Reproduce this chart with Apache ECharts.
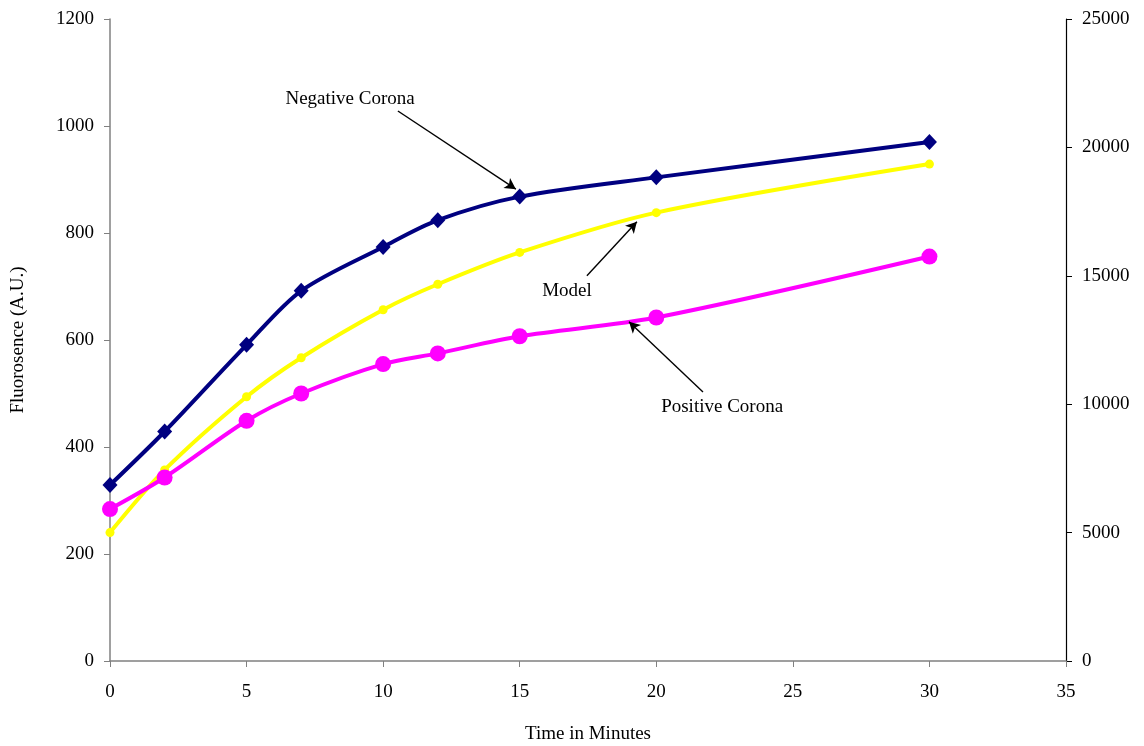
<!DOCTYPE html>
<html>
<head>
<meta charset="utf-8">
<script src="https://cdn.jsdelivr.net/npm/echarts@6/dist/echarts.min.js"></script>
<style>html,body{margin:0;padding:0;background:#fff}#c{width:1144px;height:746px}</style>
</head>
<body>
<div id="c"></div>
<script>
var times = [0, 2, 5, 7, 10, 12, 15, 20, 30];
var negativeCorona = [329, 429, 591, 692, 774, 824, 868, 904, 970];
var model = [5000, 7440, 10290, 11810, 13680, 14670, 15910, 17460, 19350];
var positiveCorona = [284, 343, 449, 500, 555, 575, 607, 642, 756];

// annotations (left-axis data coordinates)
var labelTexts = ['Negative Corona', 'Model', 'Positive Corona'];
var labelPos = [[8.79, 1050], [16.73, 692], [22.41, 475]];
var arrowFrom = [[10.54, 1028], [17.46, 720], [21.71, 503]];
var arrowTo = [[14.86, 882], [19.29, 821], [19.0, 634]];

function pairs(ys) { return times.map(function (t, i) { return [t, ys[i]]; }); }
function plain(v) { return String(v); }

var font = 'Liberation Serif';
var fs = 19;
var chart = echarts.init(document.getElementById('c'));
chart.setOption({
  animation: false,
  backgroundColor: '#fff',
  textStyle: { fontFamily: font },
  grid: { left: 110, right: 78, top: 19, bottom: 85, containLabel: false, outerBoundsMode: 'none' },
  xAxis: {
    type: 'value', min: 0, max: 35, interval: 5,
    name: 'Time in Minutes', nameLocation: 'middle', nameGap: 64,
    nameTextStyle: { fontFamily: font, fontSize: fs, color: '#000' },
    axisLine: { onZero: false, lineStyle: { color: '#808080', width: 1.5 } },
    axisTick: { show: true, length: 6, lineStyle: { color: '#808080' } },
    axisLabel: { fontFamily: font, fontSize: fs, color: '#000', margin: 22, formatter: plain },
    splitLine: { show: false }
  },
  yAxis: [{
    type: 'value', min: 0, max: 1200, interval: 200,
    name: 'Fluorosence (A.U.)', nameLocation: 'middle', nameGap: 82, nameRotate: 90,
    nameTextStyle: { fontFamily: font, fontSize: fs, color: '#000' },
    axisLine: { show: true, lineStyle: { color: '#808080', width: 1.5 } },
    axisTick: { show: true, length: 6, lineStyle: { color: '#808080' } },
    axisLabel: { fontFamily: font, fontSize: fs, color: '#000', margin: 16, formatter: plain },
    splitLine: { show: false }
  }, {
    type: 'value', min: 0, max: 25000, interval: 5000, position: 'right',
    axisLine: { show: true, lineStyle: { color: '#000', width: 1.2 } },
    axisTick: { show: true, length: 6, lineStyle: { color: '#000' } },
    axisLabel: { fontFamily: font, fontSize: fs, color: '#000', margin: 16, formatter: plain },
    splitLine: { show: false }
  }],
  series: [{
    name: 'Model', type: 'line', yAxisIndex: 1, smooth: 0.3,
    data: pairs(model),
    lineStyle: { color: '#FFFF00', width: 4 },
    itemStyle: { color: '#FFFF00' },
    symbol: 'circle', symbolSize: 9, z: 3
  }, {
    name: 'Positive Corona', type: 'line', yAxisIndex: 0, smooth: 0.3,
    data: pairs(positiveCorona),
    lineStyle: { color: '#FF00FF', width: 4 },
    itemStyle: { color: '#FF00FF' },
    symbol: 'circle', symbolSize: 16, z: 3
  }, {
    name: 'Negative Corona', type: 'line', yAxisIndex: 0, smooth: 0.3,
    data: pairs(negativeCorona),
    lineStyle: { color: '#000080', width: 4 },
    itemStyle: { color: '#000080' },
    symbol: 'diamond', symbolSize: [15, 16], z: 4,
    markLine: {
      silent: true, symbol: ['none', 'arrow'], symbolSize: [9, 11],
      lineStyle: { color: '#000', width: 1.4, type: 'solid' },
      label: { show: false },
      data: arrowFrom.map(function (f, i) { return [{ coord: f }, { coord: arrowTo[i] }]; })
    },
    markPoint: {
      silent: true, symbol: 'circle', symbolSize: 1,
      itemStyle: { color: 'rgba(0,0,0,0)' },
      label: { show: true, position: 'inside', fontFamily: font, fontSize: fs, color: '#000',
        formatter: function (p) { return p.name; } },
      data: labelTexts.map(function (t, i) { return { name: t, coord: labelPos[i] }; })
    }
  }]
});
</script>
</body>
</html>
